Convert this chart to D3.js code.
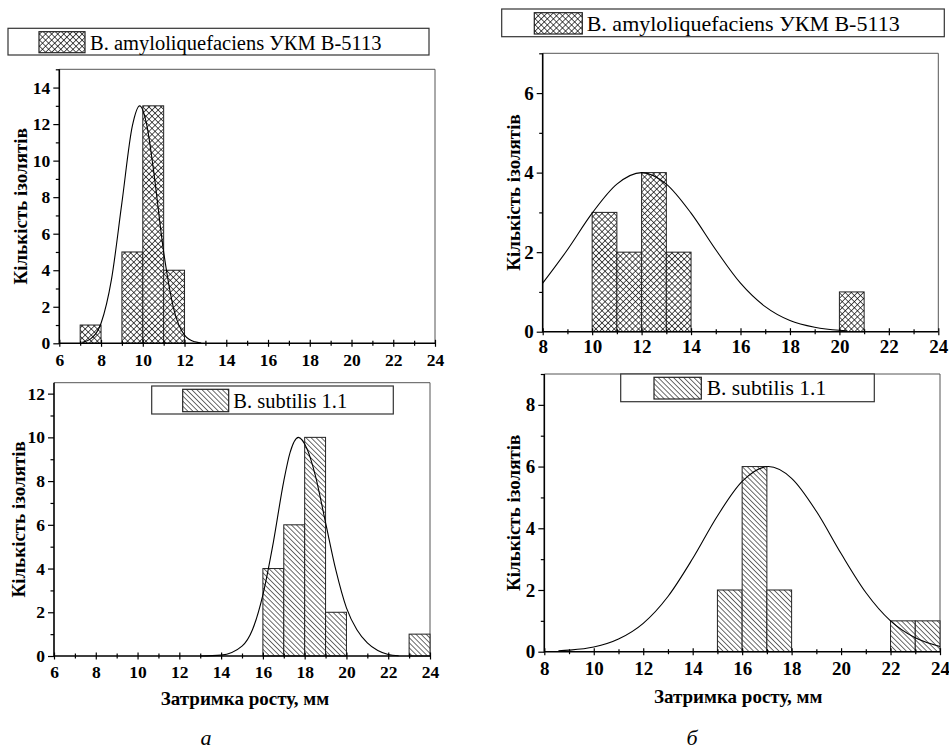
<!DOCTYPE html>
<html>
<head>
<meta charset="utf-8">
<script src="https://cdn.jsdelivr.net/npm/d3@7"></script>
<style>
  body { margin: 0; background: #fff; }
  text { font-family: "Liberation Serif", "Times New Roman", "DejaVu Serif", serif; fill: #000; }
</style>
</head>
<body>
<svg id="chart" width="949" height="751"></svg>
<script>
// --- data ---

// B. amyloliquefaciens, panel a (bin start, 1 mm wide)
const amyloA_bins = [7, 9, 10, 11];
const amyloA_counts = [1, 5, 13, 4];
const amyloA_fit = [[7.1, 0.05], [7.5, 0.24], [8.0, 1.1], [8.5, 3.5], [9.0, 7.7], [9.5, 11.9],
  [9.85, 13], [10.2, 11.9], [10.5, 9.6], [11.0, 5.0], [11.5, 1.8], [12.0, 0.45], [12.5, 0.08], [12.8, 0.02]];

// B. subtilis, panel a
const subA_bins = [16, 17, 18, 19, 23];
const subA_counts = [4, 6, 10, 2, 1];
const subA_fit = [[13.0, 0], [14.0, 0.04], [15.0, 0.45], [15.5, 1.2], [16.0, 2.8], [16.5, 5.2], [17.0, 8.0],
  [17.3, 9.3], [17.7, 10], [18.1, 9.5], [18.5, 8.3], [19.0, 6.1], [19.5, 3.9], [20.0, 2.2], [20.5, 1.2],
  [21.0, 0.6], [21.5, 0.25], [22.0, 0.07], [22.5, 0.01]];

// B. amyloliquefaciens, panel б
const amyloB_bins = [10, 11, 12, 13, 20];
const amyloB_counts = [3, 2, 4, 2, 1];
const amyloB_fit = [[8, 1.22], [9, 2.06], [10, 2.98], [11, 3.71], [12, 4], [13, 3.71], [14, 2.98],
  [15, 2.06], [16, 1.22], [17, 0.63], [18, 0.28], [19, 0.11], [20, 0.035], [20.3, 0.025]];

// B. subtilis, panel б
const subB_bins = [15, 16, 17, 22, 23];
const subB_counts = [2, 6, 2, 1, 1];
const subB_fit = [[8.57, 0.03], [9, 0.05], [10, 0.15], [11, 0.41], [12, 0.92], [13, 1.79], [14, 3.02],
  [15, 4.4], [16, 5.52], [17.06, 6], [18, 5.62], [19, 4.55], [20, 3.18], [21, 1.92], [22, 1.0],
  [23, 0.45], [24, 0.17]];

const amyloName = "B. amyloliquefaciens УКМ В-5113";
const subName = "B. subtilis 1.1";
const yTitle = "Кількість ізолятів";
const xTitle = "Затримка росту, мм";

// --- layout ---
const panels = [
  { l: 59.3, r: 435, t: 69.3, b: 343.3, xDomain: [6, 24], yDomain: [0, 15], yMax: 14,
    bins: amyloA_bins, counts: amyloA_counts, fit: amyloA_fit, fill: "cross",
    tickFont: 17.5, xPad: 7, yTitleX: 27,
    legend: { x: 8, y: 28.3, w: 421, h: 26.7, sx: 39, sy: 31.7, sw: 46, sh: 21, tx: 90, ty: 50, fs: 20.5, name: amyloName } },
  { l: 542.7, r: 938.3, t: 53.3, b: 331.7, xDomain: [8, 24], yDomain: [0, 7], yMax: 6,
    bins: amyloB_bins, counts: amyloB_counts, fit: amyloB_fit, fill: "cross",
    tickFont: 19, xPad: 4.5, yTitleX: 520,
    legend: { x: 501.7, y: 9, w: 442.6, h: 27.7, sx: 534.3, sy: 12.7, sw: 48, sh: 21.3, tx: 586.7, ty: 30.5, fs: 22, name: amyloName } },
  { l: 54, r: 430, t: 382.7, b: 656, xDomain: [6, 24], yDomain: [0, 12.5], yMax: 12,
    bins: subA_bins, counts: subA_counts, fit: subA_fit, fill: "diag",
    tickFont: 17.5, xPad: 6, yTitleX: 25,
    legend: { x: 151.7, y: 386, w: 241.6, h: 28, sx: 182.7, sy: 389.3, sw: 46, sh: 22.4, tx: 233.3, ty: 408.3, fs: 20.5, name: subName } },
  { l: 544.3, r: 940, t: 374, b: 651.7, xDomain: [8, 24], yDomain: [0, 9], yMax: 8,
    bins: subB_bins, counts: subB_counts, fit: subB_fit, fill: "diag",
    tickFont: 19, xPad: 6, yTitleX: 520,
    legend: { x: 620.7, y: 374, w: 253.6, h: 27.7, sx: 654, sy: 377.3, sw: 47.3, sh: 21.7, tx: 706.7, ty: 395, fs: 21.5, name: subName } }
];

const svg = d3.select("#chart");

// hatch patterns
const defs = svg.append("defs");
const cross = defs.append("pattern")
  .attr("id", "cross")
  .attr("patternUnits", "userSpaceOnUse")
  .attr("width", 4.3).attr("height", 4.3)
  .attr("patternTransform", "rotate(45)");
cross.append("rect").attr("width", 4.3).attr("height", 4.3).attr("fill", "#fff");
cross.append("line").attr("x1", 0).attr("y1", 0).attr("x2", 0).attr("y2", 4.3)
  .attr("stroke", "#000").attr("stroke-width", 1.3);
cross.append("line").attr("x1", 0).attr("y1", 0).attr("x2", 4.3).attr("y2", 0)
  .attr("stroke", "#000").attr("stroke-width", 1.3);

const diag = defs.append("pattern")
  .attr("id", "diag")
  .attr("patternUnits", "userSpaceOnUse")
  .attr("width", 3.6).attr("height", 3.6)
  .attr("patternTransform", "rotate(-45)");
diag.append("rect").attr("width", 3.6).attr("height", 3.6).attr("fill", "#fff");
diag.append("line").attr("x1", 0).attr("y1", 0).attr("x2", 0).attr("y2", 3.6)
  .attr("stroke", "#000").attr("stroke-width", 1.15);

const serif = '"Liberation Serif", "Times New Roman", "DejaVu Serif", serif';

function drawPanel(p) {
  const g = svg.append("g");

  const x = d3.scaleLinear().domain(p.xDomain).range([p.l, p.r]);
  const y = d3.scaleLinear().domain(p.yDomain).range([p.b, p.t]);

  // frame top / right
  g.append("path")
    .attr("d", `M${p.l},${p.t}H${p.r}V${p.b}`)
    .attr("fill", "none").attr("stroke", "#555").attr("stroke-width", 1);

  // bars
  const bars = p.bins.map((s, i) => ({ s: s, c: p.counts[i] }));
  g.selectAll("rect.bar")
    .data(bars)
    .join("rect")
    .attr("class", "bar")
    .attr("x", d => x(d.s))
    .attr("width", d => x(d.s + 1) - x(d.s))
    .attr("y", d => y(d.c))
    .attr("height", d => y(0) - y(d.c))
    .attr("fill", `url(#${p.fill})`)
    .attr("stroke", "#222")
    .attr("stroke-width", 1);

  // fitted curve
  const line = d3.line()
    .x(d => x(d[0]))
    .y(d => y(d[1]))
    .curve(d3.curveMonotoneX);
  g.append("path")
    .datum(p.fit)
    .attr("d", line)
    .attr("fill", "none")
    .attr("stroke", "#000")
    .attr("stroke-width", 1.1);

  // x axis
  const xMajor = d3.range(p.xDomain[0], p.xDomain[1] + 1, 2);
  const xMinor = d3.range(p.xDomain[0] + 1, p.xDomain[1], 2);
  const xa = g.append("g")
    .attr("transform", `translate(0,${p.b})`)
    .call(d3.axisBottom(x).tickValues(xMajor).tickSize(3.5).tickPadding(p.xPad).tickFormat(d3.format("d")));
  xa.selectAll(".tick line").attr("y1", -3.5);
  g.append("g")
    .attr("transform", `translate(0,${p.b})`)
    .call(d3.axisBottom(x).tickValues(xMinor).tickSize(2.5).tickFormat(""))
    .selectAll(".tick line").attr("y1", -2.5);

  // y axis
  const yMajor = d3.range(0, p.yMax + 1, 2);
  const yMinor = d3.range(1, Math.floor(p.yDomain[1]) + 1, 2);
  g.append("g")
    .attr("transform", `translate(${p.l},0)`)
    .call(d3.axisLeft(y).tickValues(yMajor).tickSize(6).tickPadding(3).tickFormat(d3.format("d")));
  g.append("g")
    .attr("transform", `translate(${p.l},0)`)
    .call(d3.axisLeft(y).tickValues(yMinor).tickSize(3.5).tickFormat(""));

  g.selectAll(".domain").remove();
  g.selectAll(".tick line").attr("stroke", "#000").attr("stroke-width", 1.2);
  g.selectAll("g").attr("font-family", serif);
  g.selectAll(".tick text")
    .style("font-family", serif)
    .style("font-weight", "700")
    .style("font-size", p.tickFont + "px");

  // axis lines
  g.append("path")
    .attr("d", `M${p.l},${p.t}V${p.b}H${p.r}`)
    .attr("fill", "none").attr("stroke", "#000").attr("stroke-width", 1.6);

  // y title
  g.append("text")
    .attr("transform", `translate(${p.yTitleX},${(p.t + p.b) / 2}) rotate(-90)`)
    .attr("text-anchor", "middle")
    .style("font-weight", "700")
    .style("font-size", "19px")
    .text(yTitle);

  // legend
  const lg = p.legend;
  g.append("rect")
    .attr("x", lg.x).attr("y", lg.y).attr("width", lg.w).attr("height", lg.h)
    .attr("fill", "#fff").attr("stroke", "#333").attr("stroke-width", 1.2);
  g.append("rect")
    .attr("x", lg.sx).attr("y", lg.sy).attr("width", lg.sw).attr("height", lg.sh)
    .attr("fill", `url(#${p.fill})`).attr("stroke", "#222").attr("stroke-width", 1.2);
  g.append("text")
    .attr("x", lg.tx).attr("y", lg.ty)
    .style("font-size", lg.fs + "px")
    .text(lg.name);
}

panels.forEach(drawPanel);

// x titles and panel letters
svg.append("text")
  .attr("x", (panels[2].l + panels[2].r) / 2 + 3).attr("y", 705)
  .attr("text-anchor", "middle")
  .style("font-weight", "700").style("font-size", "19px")
  .text(xTitle);
svg.append("text")
  .attr("x", (panels[3].l + panels[3].r) / 2 - 4).attr("y", 703)
  .attr("text-anchor", "middle")
  .style("font-weight", "700").style("font-size", "19px")
  .text(xTitle);
svg.append("text")
  .attr("x", 206).attr("y", 745)
  .attr("text-anchor", "middle")
  .style("font-style", "italic").style("font-size", "22px")
  .text("а");
svg.append("text")
  .attr("x", 692).attr("y", 745)
  .attr("text-anchor", "middle")
  .style("font-style", "italic").style("font-size", "22px")
  .text("б");
</script>
</body>
</html>
